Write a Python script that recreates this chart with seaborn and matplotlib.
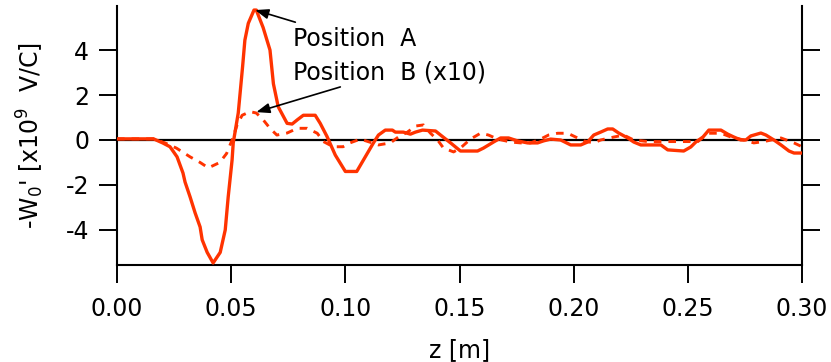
import matplotlib
matplotlib.use("Agg")
import matplotlib.pyplot as plt
import seaborn as sns
import pandas as pd

# Position A (solid)
z_a = [0.000, 0.016, 0.020, 0.0232, 0.0263, 0.0289, 0.0298, 0.032, 0.0342, 0.0364, 0.0373, 0.0395, 0.0421,
       0.0452, 0.0474, 0.0487, 0.0504, 0.0509, 0.0531, 0.055, 0.056, 0.0575, 0.060, 0.061, 0.064, 0.067, 0.0685,
       0.0706, 0.0745, 0.0767, 0.079, 0.0816,
       0.0868, 0.089, 0.092, 0.0956, 0.100, 0.105, 0.1123, 0.1145, 0.1175, 0.1206, 0.1219, 0.1254, 0.1285, 0.1307,
       0.1338, 0.1395, 0.1417, 0.1461, 0.1504, 0.1579, 0.1605, 0.1649, 0.1680, 0.1715, 0.1754, 0.1798, 0.1842,
       0.1868, 0.1899, 0.1943, 0.1987, 0.2031, 0.2061, 0.2088, 0.2118, 0.2149, 0.2171, 0.2197, 0.2237, 0.2263,
       0.2294, 0.2382, 0.2412, 0.2482, 0.2513, 0.2535, 0.2566, 0.2592, 0.2645, 0.2675, 0.2702, 0.2732, 0.2754,
       0.2776, 0.2820, 0.2842, 0.2877, 0.2908, 0.2943, 0.2965, 0.300]
w_a = [0.05, 0.05, -0.13, -0.3, -0.75, -1.47, -1.87, -2.53, -3.24, -3.87, -4.44, -5.0, -5.47,
       -5.0, -4.0, -2.53, -0.89, -0.13, 1.2, 3.26, 4.44, 5.19, 5.78, 5.78, 5.0, 4.0, 2.5,
       1.48, 0.74, 0.71, 0.9, 1.1,
       1.1, 0.74, 0.15, -0.67, -1.4, -1.4, -0.13, 0.22, 0.44, 0.44, 0.35, 0.35, 0.26, 0.35,
       0.44, 0.4, 0.22, -0.13, -0.49, -0.49, -0.36, -0.09, 0.09, 0.09, -0.04, -0.13, -0.13,
       -0.04, 0.04, 0.0, -0.22, -0.22, -0.09, 0.22, 0.35, 0.49, 0.49, 0.31, 0.09, -0.09,
       -0.22, -0.22, -0.44, -0.49, -0.31, -0.09, 0.13, 0.44, 0.44, 0.26, 0.13, 0.0, 0.0,
       0.18, 0.31, 0.22, 0.0, -0.22, -0.49, -0.58, -0.58]

# Position B (x10, dashed)
z_b = [0.000, 0.016, 0.021, 0.026, 0.032, 0.0364, 0.040, 0.045, 0.048, 0.0504, 0.0526, 0.0548, 0.0583, 0.061,
       0.064, 0.067, 0.070, 0.0745, 0.079, 0.0833, 0.0877, 0.0904, 0.0947, 0.099, 0.102, 0.1066, 0.1145, 0.1197,
       0.1232, 0.1272, 0.1307, 0.1342, 0.1373, 0.1404, 0.143, 0.1474, 0.1504, 0.1548, 0.1592, 0.1627, 0.1667,
       0.1724, 0.1768, 0.1811, 0.1855, 0.189, 0.193, 0.1974, 0.2009, 0.2044, 0.2088, 0.2118, 0.2175, 0.2219,
       0.2263, 0.2325, 0.25, 0.2544, 0.2588, 0.2645, 0.2689, 0.2746, 0.2789, 0.2833, 0.2908, 0.2965, 0.300]
w_b = [0.05, 0.05, -0.13, -0.36, -0.75, -1.0, -1.24, -1.0, -0.6, 0.0, 0.67, 1.1, 1.26, 1.2,
       0.9, 0.52, 0.22, 0.31, 0.52, 0.52, 0.3, -0.07, -0.3, -0.3, -0.13, 0.04, -0.22, -0.13,
       0.13, 0.35, 0.62, 0.67, 0.3, 0.0, -0.36, -0.53, -0.36, 0.04, 0.3, 0.22, 0.04,
       -0.09, -0.13, -0.13, 0.04, 0.22, 0.3, 0.3, 0.13, -0.04, -0.13, 0.0, 0.13, 0.22,
       0.0, -0.07, -0.07, -0.07, 0.3, 0.3, 0.13, 0.0, -0.13, -0.07, 0.09, -0.13, -0.3]

x_ticks = [0.00, 0.05, 0.10, 0.15, 0.20, 0.25, 0.30]
x_ticklabels = ["0.00", "0.05", "0.10", "0.15", "0.20", "0.25", "0.30"]
y_ticks = [-4, -2, 0, 2, 4]
y_ticklabels = ["-4", "-2", "0", "2", "4"]

sns.set_style("ticks")
plt.rcParams['font.family'] = ['DejaVu Sans']
plt.rcParams['text.color'] = 'black'
plt.rcParams['axes.labelcolor'] = 'black'
plt.rcParams['xtick.color'] = 'black'
plt.rcParams['ytick.color'] = 'black'

df_a = pd.DataFrame({"z": z_a, "w": w_a})
df_b = pd.DataFrame({"z": z_b, "w": w_b})

fig = plt.figure(figsize=(8.31, 3.62), dpi=100)
ax = fig.add_axes([0.1408, 0.268, 0.8243, 0.7154])

red = "#FF3300"
ax.axhline(0, color="black", lw=1.6, zorder=1)
sns.lineplot(data=df_a, x="z", y="w", ax=ax, color=red, lw=2.4, sort=False, zorder=3)
sns.lineplot(data=df_b, x="z", y="w", ax=ax, color=red, lw=2.1, sort=False, zorder=2,
             linestyle=(0, (2.6, 2.4)))

ax.set_xlim(0, 0.30)
ax.set_ylim(-5.56, 5.96)
ax.set_xticks(x_ticks)
ax.set_xticklabels(x_ticklabels)
ax.set_yticks(y_ticks)
ax.set_yticklabels(y_ticklabels)

for s in ["left", "bottom", "right"]:
    ax.spines[s].set_linewidth(1.5)
    ax.spines[s].set_color("black")
ax.spines["top"].set_visible(False)

fs = 17
ax.tick_params(axis="x", direction="out", length=13, width=1.4, pad=10, labelsize=fs, colors="black")
ax.tick_params(axis="y", direction="out", length=13, width=1.4, pad=7, labelsize=fs, colors="black",
               right=True, labelright=False)

ax.set_xlabel("z [m]", fontsize=fs, labelpad=12, color="black")
ax.set_ylabel(r"-W$_0$' [x10$^9$  V/C]", fontsize=fs, labelpad=14, color="black")

ax.annotate("", xy=(0.0605, 5.78), xytext=(0.0781, 5.24),
            arrowprops=dict(arrowstyle="-|>,head_length=0.8,head_width=0.3", color="black", lw=1.2,
                            shrinkA=0, shrinkB=0))
ax.annotate("", xy=(0.061, 1.24), xytext=(0.0978, 2.36),
            arrowprops=dict(arrowstyle="-|>,head_length=0.8,head_width=0.3", color="black", lw=1.2,
                            shrinkA=0, shrinkB=0))
ax.text(0.0772, 4.49, "Position  A", fontsize=fs, va="center", ha="left", color="black")
ax.text(0.0772, 3.02, "Position  B (x10)", fontsize=fs, va="center", ha="left", color="black")

fig.savefig("out.png", dpi=100)
